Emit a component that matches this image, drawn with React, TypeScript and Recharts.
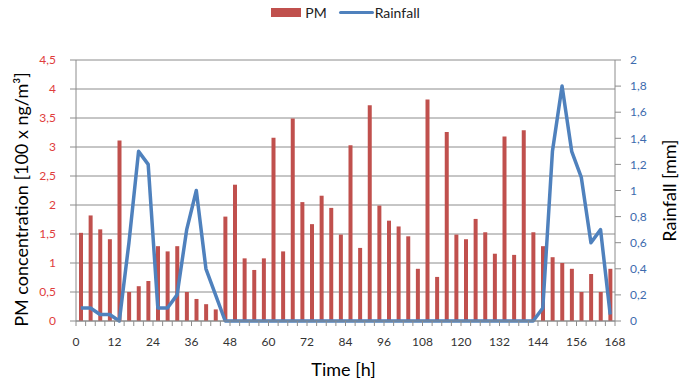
import React from 'react';
import {
  ComposedChart,
  Bar,
  Line,
  XAxis,
  YAxis,
  CartesianGrid,
  Legend,
} from 'recharts';

// Start hour of each 3-hour interval
const hours = [
  0, 3, 6, 9, 12, 15, 18, 21, 24, 27, 30, 33, 36, 39, 42, 45, 48, 51, 54, 57,
  60, 63, 66, 69, 72, 75, 78, 81, 84, 87, 90, 93, 96, 99, 102, 105, 108, 111,
  114, 117, 120, 123, 126, 129, 132, 135, 138, 141, 144, 147, 150, 153, 156,
  159, 162, 165,
];

// PM concentration [100 x ng/m3]
const pm = [
  1.52, 1.82, 1.58, 1.41, 3.11, 0.5, 0.6, 0.69, 1.29, 1.2, 1.29, 0.5, 0.38,
  0.29, 0.2, 1.8, 2.35, 1.08, 0.88, 1.08, 3.16, 1.2, 3.49, 2.05, 1.67, 2.16,
  1.95, 1.49, 3.03, 1.26, 3.72, 1.99, 1.73, 1.63, 1.46, 0.9, 3.82, 0.76, 3.26,
  1.49, 1.41, 1.76, 1.53, 1.16, 3.18, 1.14, 3.29, 1.53, 1.29, 1.1, 1.0, 0.9,
  0.5, 0.81, 0.5, 0.9,
];

// Rainfall [mm]
const rainfall = [
  0.1, 0.1, 0.05, 0.05, 0, 0.6, 1.3, 1.2, 0.1, 0.1, 0.2, 0.7, 1.0, 0.4, 0.2, 0,
  0, 0, 0, 0, 0, 0, 0, 0, 0, 0, 0, 0, 0, 0, 0, 0, 0, 0, 0, 0, 0, 0, 0, 0, 0, 0,
  0, 0, 0, 0, 0, 0, 0.1, 1.3, 1.8, 1.3, 1.1, 0.6, 0.7, 0.05,
];

const xTicks = [
  0, 3, 6, 9, 12, 15, 18, 21, 24, 27, 30, 33, 36, 39, 42, 45, 48, 51, 54, 57,
  60, 63, 66, 69, 72, 75, 78, 81, 84, 87, 90, 93, 96, 99, 102, 105, 108, 111,
  114, 117, 120, 123, 126, 129, 132, 135, 138, 141, 144, 147, 150, 153, 156,
  159, 162, 165, 168,
];
const leftTicks = [0, 0.5, 1, 1.5, 2, 2.5, 3, 3.5, 4, 4.5];
const rightTicks = [0, 0.2, 0.4, 0.6, 0.8, 1, 1.2, 1.4, 1.6, 1.8, 2];

const data = hours.map((h, i) => ({
  t: h + 1.5,
  pm: pm[i],
  rain: rainfall[i],
}));

const FONT = 'Lato, "Open Sans", sans-serif';
const PM_COLOR = '#C0504D';
const RAIN_COLOR = '#4F81BD';
const GRID = '#8C8C8C';

const fmt = (v: number) =>
  Number.isInteger(v) ? String(v) : v.toFixed(1).replace('.', ',');

const renderLegend = () => (
  <div
    style={{
      display: 'flex',
      justifyContent: 'center',
      alignItems: 'center',
      fontFamily: FONT,
      fontSize: 14,
      color: '#222',
    }}
  >
    <span
      style={{
        display: 'inline-block',
        width: 30,
        height: 9,
        background: PM_COLOR,
        marginRight: 4,
      }}
    />
    <span style={{ marginRight: 12 }}>PM</span>
    <span
      style={{
        display: 'inline-block',
        width: 35,
        height: 3,
        background: RAIN_COLOR,
        borderRadius: 2,
        marginRight: 1,
      }}
    />
    <span>Rainfall</span>
  </div>
);

export default function App() {
  return (
    <div style={{ position: 'absolute', left: 0, top: 0, width: 691, height: 384, background: '#fff' }}>
      <ComposedChart
        width={691}
        height={384}
        data={data}
        margin={{ top: 43, right: 0, bottom: 0, left: 0 }}
      >
        <CartesianGrid
          yAxisId="left"
          vertical={false}
          stroke={GRID}
          strokeWidth={1}
        />
        <XAxis
          dataKey="t"
          type="number"
          domain={[0, 168]}
          ticks={xTicks}
          interval={0}
          height={63}
          tickFormatter={(v: number) => (v % 12 === 0 ? String(v) : '')}
          tick={{ fill: '#333', fontSize: 12, fontFamily: FONT }}
          tickSize={5}
          tickMargin={11}
          axisLine={{ stroke: GRID }}
          tickLine={{ stroke: GRID }}
          label={{
            value: 'Time [h]',
            position: 'center',
            dy: 17,
            dx: -2,
            style: { fontSize: 18, fontFamily: FONT, fill: '#000' },
          }}
        />
        <YAxis
          yAxisId="left"
          orientation="left"
          width={76}
          domain={[0, 4.5]}
          ticks={leftTicks}
          interval={0}
          tickFormatter={fmt}
          tick={{ fill: '#E03C3C', fontSize: 12, fontFamily: FONT }}
          tickSize={6}
          tickMargin={14}
          axisLine={{ stroke: GRID }}
          tickLine={{ stroke: GRID }}
          label={{
            value: 'PM concentration [100 x ng/m³]',
            angle: -90,
            position: 'center',
            dx: -16,
            dy: 9,
            style: { fontSize: 18, fontFamily: FONT, fill: '#000', textAnchor: 'middle' },
          }}
        />
        <YAxis
          yAxisId="right"
          orientation="right"
          width={76}
          domain={[0, 2]}
          ticks={rightTicks}
          interval={0}
          tickFormatter={fmt}
          tick={{ fill: '#3D6BAE', fontSize: 12, fontFamily: FONT }}
          tickSize={6}
          tickMargin={9}
          axisLine={{ stroke: GRID }}
          tickLine={{ stroke: GRID }}
          label={{
            value: 'Rainfall [mm]',
            angle: -90,
            position: 'center',
            dx: 17,
            style: { fontSize: 18, fontFamily: FONT, fill: '#000', textAnchor: 'middle' },
          }}
        />
        <Legend
          verticalAlign="top"
          align="center"
          content={renderLegend}
          wrapperStyle={{ top: 4, left: 0, width: 691 }}
        />
        <Bar
          yAxisId="left"
          dataKey="pm"
          name="PM"
          fill={PM_COLOR}
          barSize={4}
          isAnimationActive={false}
        />
        <Line
          yAxisId="right"
          dataKey="rain"
          name="Rainfall"
          type="linear"
          stroke={RAIN_COLOR}
          strokeWidth={3.5}
          dot={false}
          activeDot={false}
          strokeLinejoin="round"
          isAnimationActive={false}
        />
      </ComposedChart>
    </div>
  );
}
